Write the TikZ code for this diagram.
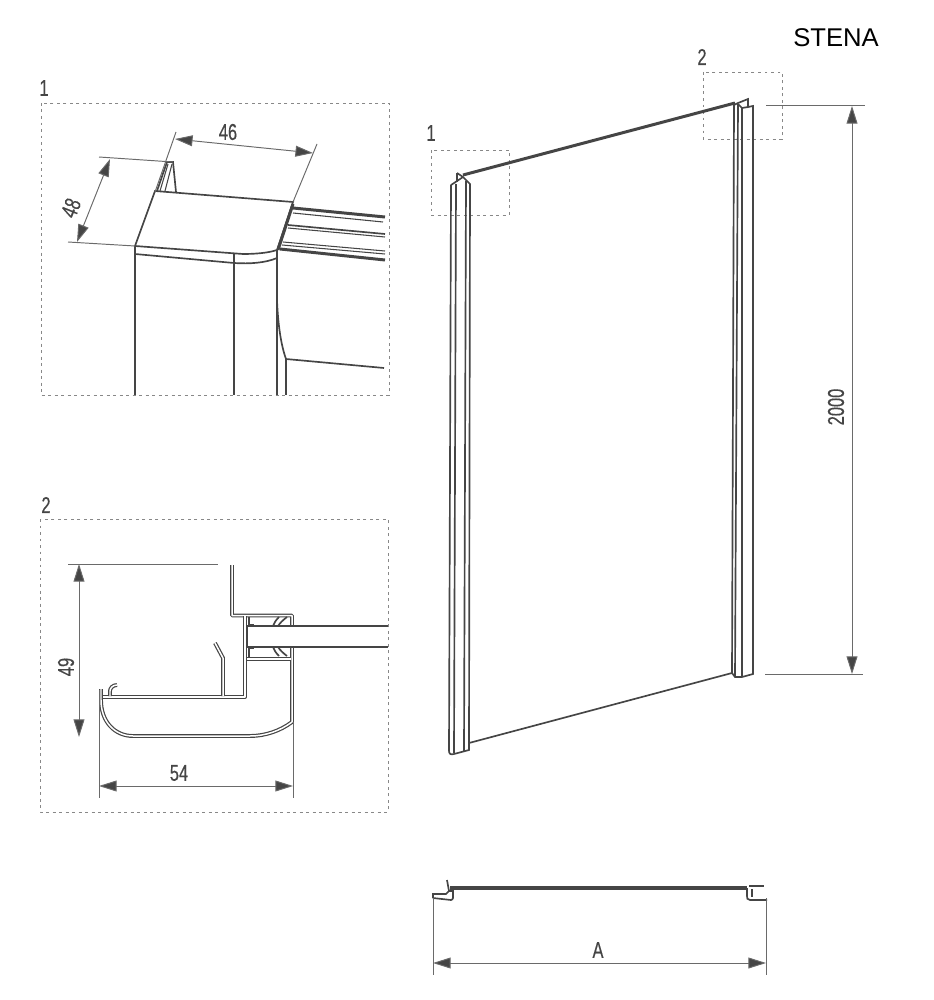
\documentclass[tikz,border=0pt]{standalone}
\usepackage{fontspec}
\setmainfont{Liberation Sans}
\newfontfamily\dimfont[FakeStretch=0.72,FakeBold=0.35]{Liberation Sans}
\usetikzlibrary{arrows.meta}
\definecolor{inkline}{HTML}{454545}
\definecolor{dimline}{HTML}{6A6A6A}
\tikzset{
  detailbox/.style={draw=dimline!80, line width=0.5pt, dash pattern=on 1.7pt off 2pt},
  dimarrow/.style={draw=dimline, line width=0.55pt, {Triangle[length=10pt,width=6.2pt,fill=inkline]}-{Triangle[length=10pt,width=6.2pt,fill=inkline]}},
  extline/.style={draw=dimline, line width=0.55pt},
  dimtext/.style={font=\dimfont\fontsize{13}{13}\selectfont, text=inkline, inner sep=0pt},
  edge/.style={draw=inkline, line width=0.95pt},
  heavy/.style={draw=inkline, line width=1.7pt},
  wall/.style={draw=inkline, line width=0.68pt, double=white, double distance=0.85pt, line join=round}
}
\begin{document}
\begin{tikzpicture}[x=0.02cm, y=-0.02cm]
  \useasboundingbox (0,0) rectangle (933,1000);

  \node[font=\fontsize{14.6}{15}\selectfont, text=black, inner sep=0pt] (stena) at (836,38) {STENA};

  % detail 1
  \node[dimtext] (labelA) at (44,88) {1};
  \draw[detailbox] (41,103) rectangle (389,395);
  \draw[edge] (155,191) -- (293,202) -- (277,250) .. controls (268,253) and (255,254) .. (243,254) -- (135,246) -- cycle;
  \draw[edge] (135,246) -- (135,254) -- (234,263) .. controls (250,264) and (265,263) .. (277,258) -- (277,250);
  \draw[edge] (234,254) -- (234,395);
  \draw[edge] (135,254) -- (135,395);
  \draw[edge] (277,258) -- (277,395);
  \draw[edge] (286,359) -- (286,395);
  \draw[edge] (277,300) .. controls (278,325) and (281,345) .. (286,359) -- (384,368);
  \draw[edge] (157,191) -- (167,162) -- (173,162) -- (176,192);
  \draw[edge, line width=0.6pt] (160,191) -- (168,164);
  \draw[edge, line width=0.6pt] (165,191) -- (172,164);
  \draw[heavy] (293,204) -- (278,250);
  \draw[heavy] (293,208) -- (385,217);
  \draw[edge, line width=0.6pt] (293,213) -- (383,222);
  \draw[edge] (288,225) -- (385,234);
  \draw[edge, line width=0.6pt] (288,228) -- (385,237);
  \draw[edge, line width=0.6pt] (283,242) -- (385,251);
  \draw[edge, line width=0.6pt] (282,245) -- (385,254);
  \draw[heavy] (280,249) -- (385,260);
  % dimensions of detail 1
  \draw[extline] (176,132) -- (155,192);
  \draw[extline] (317,144) -- (293,202);
  \draw[dimarrow] (175,139) -- (313,153);
  \node[dimtext] (widthA) at (228,132) {46};
  \draw[extline] (99,157) -- (173,162);
  \draw[extline] (68,242) -- (135,246);
  \draw[dimarrow] (110,159) -- (77,242);
  \node[dimtext, rotate=68] (depthA) at (71,208) {48};

  % detail 2
  \node[dimtext] (labelB) at (46,505) {2};
  \draw[detailbox] (40,519) rectangle (388,812);
  \draw[wall] (232,565) -- (232,615.5) -- (292,615.5) -- (292,722) .. controls (280,731) and (265,736) .. (250,736) -- (133,736) .. controls (115,736) and (101,722) .. (101,700) -- (101,689);
  \draw[wall] (103,697) -- (245,697) -- (245,616);
  \draw[wall] (247,659) -- (291,659);
  \draw[wall] (110,696) -- (110,691) .. controls (110,688) and (113,685) .. (117,685);
  \draw[wall] (223,696) -- (223,658) -- (215,643);
  \fill[white] (248,627) rectangle (296,646);
  \draw[edge] (247,626) -- (388,626);
  \draw[edge] (247,647) -- (388,647);
  \draw[edge] (247,626) -- (247,647);
  \draw[edge] (249,617) -- (249,625) -- (254,625);
  \draw[edge] (249,657) -- (249,648) -- (254,648);
  \draw[edge] (279,617) .. controls (276,620) and (274,623) .. (273,626);
  \draw[edge] (279,656) .. controls (276,653) and (274,650) .. (273,647);
  \draw[edge] (287,617) .. controls (283,620) and (280,623) .. (278,626);
  \draw[edge] (287,656) .. controls (283,653) and (280,650) .. (278,647);
  % dimensions of detail 2
  \draw[extline] (68,564) -- (218,564);
  \draw[dimarrow] (79,564) -- (79,737);
  \node[dimtext, rotate=90] (heightB) at (66,667) {49};
  \draw[extline] (99,690) -- (99,798);
  \draw[extline] (293,723) -- (293,798);
  \draw[dimarrow] (99,786) -- (293,786);
  \node[dimtext] (widthB) at (179,773) {54};

  % panel
  \node[dimtext] (labelC) at (431,133) {1};
  \node[dimtext] (labelD) at (702,57) {2};
  \draw[detailbox] (431,150) rectangle (509,215);
  \draw[detailbox] (703,72) rectangle (782,139);
  \draw[heavy] (463,175) -- (735,103);
  \draw[edge] (469,743) -- (732,673);
  % left profile
  \draw[edge] (451,185) -- (449,751) .. controls (449,754) and (451,755) .. (454,754) -- (469,750) -- (470,184) -- (466,180) -- (463,177) -- (451,185);
  \draw[edge] (456,184) -- (454,753);
  \draw[edge] (466,181) -- (464,751);
  \draw[edge] (457,173) -- (457,182);
  \draw[edge] (457,173) -- (463,177);
  % right profile
  \draw[edge] (734,105) -- (732,673) -- (735,677) -- (742,677) -- (753,674) -- (753,106) -- (748,107) -- (748,99) -- (738,103) -- cycle;
  \draw[edge] (738,104) -- (735,677);
  \draw[edge] (742,108) -- (742,677);
  \draw[edge] (742,108) -- (748,107);
  \draw[edge] (738,104) -- (742,108);
  % dimension of panel
  \draw[extline] (766,105) -- (865,105);
  \draw[extline] (765,674) -- (863,674);
  \draw[dimarrow] (852,106) -- (852,674);
  \node[dimtext, rotate=90] (heightC) at (836,407) {2000};

  % plan view
  \draw[heavy, line width=2pt] (450,888) -- (747,888);
  \draw[edge] (433,898) -- (433,894) -- (446,894) -- (449,891) -- (453,891) -- (453,898) .. controls (453,899) and (452,900) .. (451,900) -- (433,898);
  \draw[edge] (447,880) -- (449,891);
  \draw[edge] (749,886) -- (764,886);
  \draw[edge] (767,900) -- (750,900) .. controls (747,900) and (747,898) .. (747,896) -- (747,888);
  \draw[edge] (752,889) -- (752,897);
  \draw[extline] (433,898) -- (433,975);
  \draw[extline] (766,898) -- (766,975);
  \draw[dimarrow] (433,963) -- (766,963);
  \node[dimtext] (widthC) at (598,950) {A};
\end{tikzpicture}
\end{document}
